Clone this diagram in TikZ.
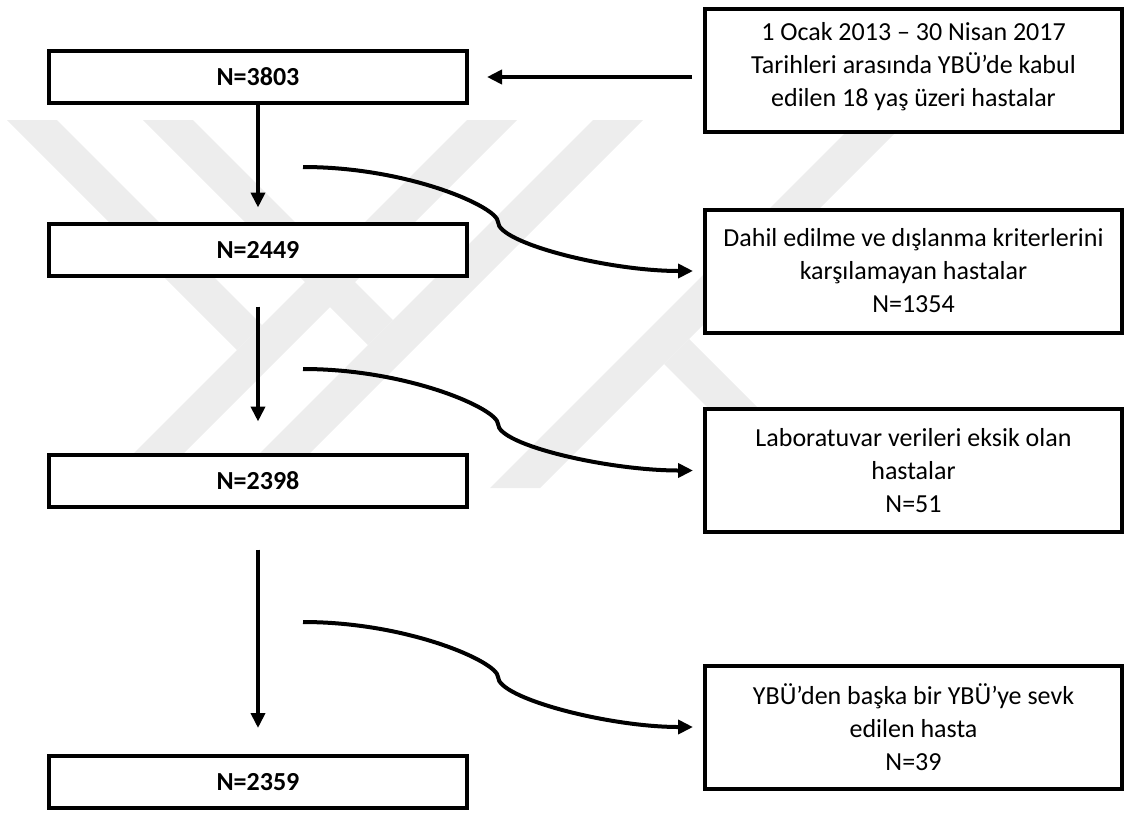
\documentclass[tikz,border=0pt]{standalone}
\usepackage{fontspec}
\setmainfont{Carlito}
\usetikzlibrary{arrows.meta}

\tikzset{
  sayi/.style={draw, line width=4pt, fill=white, minimum width=418pt, minimum height=52pt, inner sep=0pt, font=\fontsize{26}{32}\selectfont\bfseries},
  aciklama/.style={draw, line width=4pt, fill=white, minimum width=417pt, minimum height=123pt, inner sep=0pt, align=center, font=\fontsize{26}{33}\selectfont},
  ok/.style={line width=4pt, -{Triangle[length=15pt,width=14pt]}},
  filigran/.style={fill=black!7, draw=none}
}

\begin{document}
\begin{tikzpicture}[x=1pt, y=-1pt]
\useasboundingbox (0,0) rectangle (1126,812);
% filigran
\fill[filigran] (7,120) -- (57,120) -- (262,325) -- (237,350) -- cycle;
\fill[filigran] (467,120) -- (517,120) -- (149,488) -- (99,488) -- cycle;
\fill[filigran] (143,120) -- (193,120) -- (393,320) -- (368,345) -- cycle;
\fill[filigran] (593,120) -- (643,120) -- (275,488) -- (225,488) -- cycle;
\fill[filigran] (858,120) -- (908,120) -- (540,488) -- (490,488) -- cycle;
\fill[filigran] (664,364) -- (689,339) -- (838,488) -- (788,488) -- cycle;

\node[sayi] (toplam) at (258,77) {N=3803};
\node[sayi] (dahil) at (258,249.5) {N=2449};
\node[sayi] (lab) at (258,480.5) {N=2398};
\node[sayi] (sonuc) at (258,782) {N=2359};

\node[aciklama, text depth=11pt] (kaynak) at (913.5,70) {1 Ocak 2013 – 30 Nisan 2017\\Tarihleri arasında YBÜ’de kabul\\edilen 18 yaş üzeri hastalar};
\node[aciklama] (dislanan) at (913.5,271) {Dahil edilme ve dışlanma kriterlerini\\karşılamayan hastalar\\N=1354};
\node[aciklama] (eksik) at (913.5,470.5) {Laboratuvar verileri eksik olan\\hastalar\\N=51};
\node[aciklama] (sevk) at (913.5,727) {YBÜ’den başka bir YBÜ’ye sevk\\edilen hasta\\N=39};

\coordinate (c1) at (303,167);
\coordinate (m1) at (498,222);
\coordinate (c2) at (303,369);
\coordinate (m2) at (498,424);
\coordinate (c3) at (303,622);
\coordinate (m3) at (498,677);

\draw[ok, shorten <=11pt, shorten >=18pt] (kaynak.west |- toplam) -- (toplam.east);
\draw[ok, shorten >=14pt] (toplam.south) -- (dahil.north);
\draw[ok, shorten <=29pt, shorten >=31pt] (dahil.south) -- (lab.north);
\draw[ok, shorten <=41pt, shorten >=26pt] (lab.south) -- (sonuc.north);

\draw[ok, shorten >=10pt] (c1) .. controls +(105,0) and +(0,-15) .. (m1) .. controls +(0,21) and +(-95,0) .. (dislanan.west);
\draw[ok, shorten >=10pt] (c2) .. controls +(105,0) and +(0,-15) .. (m2) .. controls +(0,21) and +(-95,0) .. (eksik.west);
\draw[ok, shorten >=10pt] (c3) .. controls +(105,0) and +(0,-15) .. (m3) .. controls +(0,21) and +(-95,0) .. (sevk.west);
\end{tikzpicture}
\end{document}
